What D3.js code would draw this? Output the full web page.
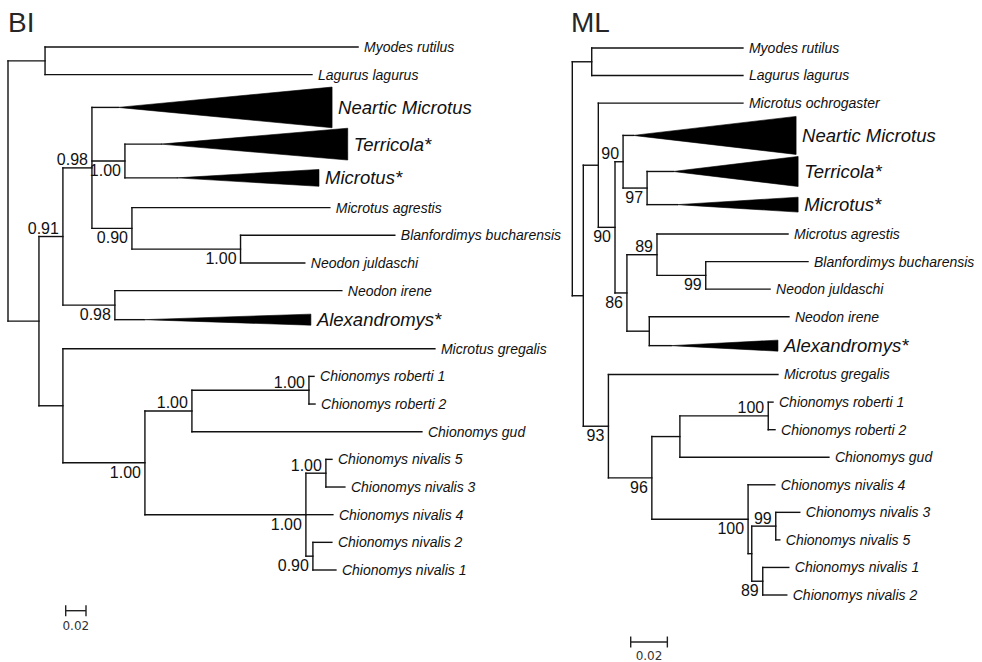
<!DOCTYPE html>
<html><head><meta charset="utf-8">
<script src="https://cdn.jsdelivr.net/npm/d3@7"></script>
<style>
html,body{margin:0;padding:0;background:#fff;}
svg{display:block;}
</style></head><body>
<svg id="chart" width="982" height="662"></svg>
<script>
// ---------- DATA ----------
const panelTitles = ["BI", "ML"];
const scaleBarValue = 0.02;

// internal nodes: [id, parent, branch length, support]
const biInternal = [
  ["root", null, 0, ""],
  ["A", "root", 0.0365, ""],
  ["C", "root", 0.0305, ""],
  ["D", "C", 0.0236, "0.91"],
  ["F", "D", 0.0286, "0.98"],
  ["H", "F", 0.0325, "1.00"],
  ["I", "F", 0.0394, "0.90"],
  ["J", "I", 0.1070, "1.00"],
  ["G", "D", 0.0512, "0.98"],
  ["E", "C", 0.0236, ""],
  ["K", "E", 0.0808, "1.00"],
  ["L", "K", 0.0463, "1.00"],
  ["N", "L", 0.1153, "1.00"],
  ["M", "K", 0.1586, "1.00"],
  ["O", "M", 0.0197, "1.00"],
  ["P", "M", 0.0069, "0.90"]
];
// tips in display order: [name, parent, branch length, collapsed clade depth, collapsed clade size]
const biTips = [
  ["Myodes rutilus", "A", 0.3084],
  ["Lagurus lagurus", "A", 0.2630],
  ["Neartic Microtus", "F", 0.0256, 0.2110, 1.47],
  ["Terricola*", "H", 0.0355, 0.1840, 1.15],
  ["Microtus*", "H", 0.0512, 0.1400, 0.61],
  ["Microtus agrestis", "I", 0.1950],
  ["Blanfordimys bucharensis", "J", 0.1520],
  ["Neodon juldaschi", "J", 0.0633],
  ["Neodon irene", "G", 0.2236],
  ["Alexandromys*", "G", 0.0286, 0.1645, 0.40],
  ["Microtus gregalis", "E", 0.3665],
  ["Chionomys roberti 1", "N", 0.0050],
  ["Chionomys roberti 2", "N", 0.0060],
  ["Chionomys gud", "L", 0.2266],
  ["Chionomys nivalis 5", "O", 0.0060],
  ["Chionomys nivalis 3", "O", 0.0187],
  ["Chionomys nivalis 4", "M", 0.0266],
  ["Chionomys nivalis 2", "P", 0.0187],
  ["Chionomys nivalis 1", "P", 0.0227]
];

const mlInternal = [
  ["root", null, 0, ""],
  ["A", "root", 0.0106, ""],
  ["Q", "root", 0.0060, ""],
  ["R", "Q", 0.0082, ""],
  ["U", "R", 0.0091, "90"],
  ["V", "U", 0.0044, "90"],
  ["X", "V", 0.0131, "97"],
  ["W", "U", 0.0065, "86"],
  ["Y", "W", 0.0164, "89"],
  ["Z", "Y", 0.0266, "99"],
  ["AA", "W", 0.0122, ""],
  ["S", "Q", 0.0137, "93"],
  ["BB", "S", 0.0237, "96"],
  ["CC", "BB", 0.0153, ""],
  ["EE", "CC", 0.0482, "100"],
  ["DD", "BB", 0.0525, "100"],
  ["FF", "DD", 0.0020, ""],
  ["GG", "FF", 0.0131, "99"],
  ["HH", "FF", 0.0060, "89"]
];
const mlTips = [
  ["Myodes rutilus", "A", 0.0825],
  ["Lagurus lagurus", "A", 0.0825],
  ["Microtus ochrogaster", "R", 0.0789],
  ["Neartic Microtus", "V", 0.0055, 0.0889, 1.38],
  ["Terricola*", "X", 0.0142, 0.0682, 1.09],
  ["Microtus*", "X", 0.0164, 0.0660, 0.54],
  ["Microtus agrestis", "Y", 0.0715],
  ["Blanfordimys bucharensis", "Z", 0.0558],
  ["Neodon juldaschi", "Z", 0.0351],
  ["Neodon irene", "AA", 0.0762],
  ["Alexandromys*", "AA", 0.0118, 0.0584, 0.40],
  ["Microtus gregalis", "S", 0.0925],
  ["Chionomys roberti 1", "EE", 0.0026],
  ["Chionomys roberti 2", "EE", 0.0037],
  ["Chionomys gud", "CC", 0.0813],
  ["Chionomys nivalis 4", "DD", 0.0146],
  ["Chionomys nivalis 3", "GG", 0.0131],
  ["Chionomys nivalis 5", "GG", 0.0022],
  ["Chionomys nivalis 1", "HH", 0.0142],
  ["Chionomys nivalis 2", "HH", 0.0131]
];

// ---------- LAYOUT ----------
const panels = [
  {title: panelTitles[0], internal: biInternal, tips: biTips,
   rootX: 8, pxPerUnit: 1015, yTop: 47, yBottom: 570,
   titleX: 8, titleY: 32, barX: 65.7, barY: 610.7, barTextY: 630},
  {title: panelTitles[1], internal: mlInternal, tips: mlTips,
   rootX: 572.3, pxPerUnit: 1833, yTop: 48, yBottom: 595,
   titleX: 571, titleY: 32, barX: 630.7, barY: 642, barTextY: 660}
];

const FONT = "'Liberation Sans', Arial, Helvetica, sans-serif";
const svg = d3.select("#chart");
svg.append("rect").attr("width", 982).attr("height", 662).attr("fill", "#fff");

function buildTree(internal, tips) {
  const rows = internal.map(d => ({id: d[0], parent: d[1], len: d[2], support: d[3]}))
    .concat(tips.map((d, i) => ({id: d[0], parent: d[1], len: d[2],
      cladeDepth: d[3] || 0, cladeSize: d[4] || 0, order: i, tip: true})));
  const root = d3.stratify().id(d => d.id).parentId(d => d.parent)(rows);
  root.eachBefore(n => { n.dist = n.parent ? n.parent.dist + n.data.len : 0; });
  root.eachAfter(n => { n.minOrder = n.children ? d3.min(n.children, c => c.minOrder) : n.data.order; });
  root.sort((a, b) => a.minOrder - b.minOrder);
  let cum = 0;
  const leaves = root.leaves();
  leaves.forEach(l => { const span = 1 + 0.25 * l.data.cladeSize; l.row = cum + span / 2; cum += span; });
  root.eachAfter(n => { if (n.children) n.row = (n.children[0].row + n.children[n.children.length - 1].row) / 2; });
  return {root, leaves};
}

panels.forEach(p => {
  const {root, leaves} = buildTree(p.internal, p.tips);
  const x = d3.scaleLinear().domain([0, 0.1]).range([p.rootX, p.rootX + p.pxPerUnit * 0.1]);
  const y = d3.scaleLinear().domain([leaves[0].row, leaves[leaves.length - 1].row]).range([p.yTop, p.yBottom]);
  const g = svg.append("g");

  g.append("text").attr("x", p.titleX).attr("y", p.titleY)
    .attr("font-family", FONT).attr("font-size", 28).attr("fill", "#262626").text(p.title);

  const lines = g.append("g").attr("stroke", "#111").attr("stroke-width", 1.4)
    .attr("stroke-linecap", "square").attr("fill", "none");
  const nodes = root.descendants();

  // horizontal branches
  lines.selectAll("line.h").data(nodes.filter(n => n.parent)).join("line")
    .attr("x1", n => x(n.parent.dist)).attr("x2", n => x(n.dist))
    .attr("y1", n => y(n.row)).attr("y2", n => y(n.row));
  // vertical connectors
  lines.selectAll("line.v").data(nodes.filter(n => n.children)).join("line")
    .attr("x1", n => x(n.dist)).attr("x2", n => x(n.dist))
    .attr("y1", n => y(n.children[0].row)).attr("y2", n => y(n.children[n.children.length - 1].row));

  // collapsed clades
  const unit = Math.abs(y(leaves[1].row) - y(leaves[0].row));
  const collapsed = leaves.filter(l => l.data.cladeDepth > 0);
  g.selectAll("path.tri").data(collapsed).join("path")
    .attr("fill", "#000").attr("stroke", "#000").attr("stroke-width", 0.6)
    .attr("d", l => {
      const x0 = x(l.dist), x1 = x(l.dist + l.data.cladeDepth), yc = y(l.row), h = l.data.cladeSize * unit / 2;
      return `M${x0},${yc}L${x1},${yc - h}L${x1},${yc + h}Z`;
    });

  // tip labels
  g.selectAll("text.tip").data(leaves).join("text")
    .attr("x", l => x(l.dist + l.data.cladeDepth) + 6)
    .attr("y", l => y(l.row))
    .attr("dy", "0.35em")
    .attr("font-family", FONT).attr("font-style", "italic")
    .attr("font-size", l => l.data.cladeDepth > 0 ? 18.5 : 14)
    .attr("fill", "#111")
    .text(l => l.id);

  // support values
  const supported = nodes.filter(n => n.children && n.data.support);
  g.selectAll("text.sup").data(supported).join("text")
    .attr("x", n => x(n.dist) - 4)
    .attr("y", n => {
      const first = n.parent && n.parent.children[0] === n;
      return first ? y(n.row) - 2.5 : y(n.row) + 15;
    })
    .attr("text-anchor", "end")
    .attr("font-family", FONT).attr("font-size", 16).attr("fill", "#111")
    .text(n => n.data.support);

  // scale bar
  const barLen = x(scaleBarValue) - x(0);
  const sb = g.append("g").attr("stroke", "#222").attr("stroke-width", 1.4);
  sb.append("line").attr("x1", p.barX).attr("x2", p.barX + barLen).attr("y1", p.barY).attr("y2", p.barY);
  sb.append("line").attr("x1", p.barX).attr("x2", p.barX).attr("y1", p.barY - 5.5).attr("y2", p.barY + 5.5);
  sb.append("line").attr("x1", p.barX + barLen).attr("x2", p.barX + barLen).attr("y1", p.barY - 5.5).attr("y2", p.barY + 5.5);
  g.append("text").attr("x", p.barX + barLen / 2).attr("y", p.barTextY)
    .attr("text-anchor", "middle").attr("font-family", "'DejaVu Sans', sans-serif")
    .attr("font-size", 12).attr("fill", "#333").text(d3.format(".2f")(scaleBarValue));
});
</script>
</body></html>
